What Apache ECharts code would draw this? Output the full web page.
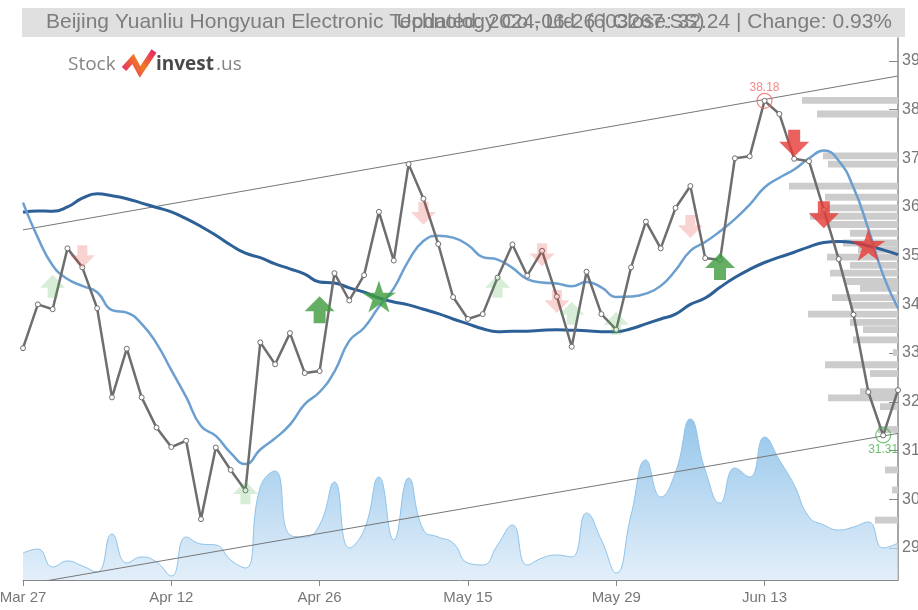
<!DOCTYPE html>
<html><head><meta charset="utf-8">
<script src="https://cdn.jsdelivr.net/npm/echarts/dist/echarts.min.js"></script>
<style>html,body{margin:0;padding:0;background:#fff}#c{width:918px;height:610px}</style>
</head><body><div id="c"></div>
<script>
const categories = ["Mar 27","Mar 28","Mar 29","Apr 1","Apr 2","Apr 3","Apr 8","Apr 9","Apr 10","Apr 11",
"Apr 12","Apr 15","Apr 16","Apr 17","Apr 18","Apr 19","Apr 22","Apr 23","Apr 24","Apr 25",
"Apr 26","Apr 29","Apr 30","May 6","May 7","May 8","May 9","May 10","May 13","May 14",
"May 15","May 16","May 17","May 20","May 21","May 22","May 23","May 24","May 27","May 28",
"May 29","May 30","May 31","Jun 3","Jun 4","Jun 5","Jun 6","Jun 7","Jun 11","Jun 12",
"Jun 13","Jun 14","Jun 17","Jun 18","Jun 19","Jun 20","Jun 21","Jun 24","Jun 25","Jun 26"];
const closePrices = [33.10,34.00,33.90,35.15,34.76,33.92,32.09,33.09,32.09,31.47,
31.07,31.20,29.59,31.06,30.60,30.18,33.22,32.77,33.41,32.59,
32.63,34.64,34.08,34.60,35.90,34.90,36.88,36.17,35.24,34.15,
33.70,33.80,34.55,35.23,34.59,35.10,34.16,33.13,34.67,33.80,
33.48,34.76,35.70,35.15,35.98,36.43,34.95,34.91,37.00,37.04,
38.18,37.91,36.99,36.94,35.94,34.93,33.79,32.20,31.31,32.24];
const smaFast = [36.09,35.37,34.80,34.52,34.38,34.25,33.88,33.83,33.60,33.20,
32.65,32.10,31.50,31.30,30.95,30.72,31.02,31.25,31.53,31.95,
32.20,32.62,33.25,33.52,33.95,34.33,34.90,35.30,35.41,35.37,
35.22,34.97,34.92,34.75,34.52,34.45,34.43,34.37,34.46,34.35,
34.15,34.16,34.22,34.38,34.70,35.10,35.28,35.50,35.75,36.05,
36.40,36.60,36.77,37.00,37.16,36.95,36.40,35.55,34.60,33.92];
const smaSlow = [35.89,35.92,35.91,36.00,36.18,36.27,36.23,36.17,36.08,35.99,
35.90,35.76,35.60,35.42,35.22,35.05,34.96,34.83,34.73,34.62,
34.46,34.44,34.34,34.25,34.13,34.05,33.99,33.90,33.81,33.70,
33.60,33.50,33.44,33.45,33.45,33.47,33.48,33.47,33.46,33.44,
33.44,33.50,33.60,33.70,33.80,34.00,34.13,34.35,34.55,34.72,
34.86,34.97,35.07,35.18,35.27,35.29,35.27,35.20,35.12,35.02];
const volumes = [27,31,13,19,14,8,46,17,23,18,
4,43,36,35,20,12,93,109,45,43,
55,98,32,50,103,40,102,50,43,37,
17,15,35,55,15,22,25,23,67,40,
7,65,120,83,108,161,110,77,112,103,
143,120,95,63,55,50,53,58,32,37];
const profilePrices = [38.19,37.91,37.05,36.88,36.43,36.20,35.98,35.81,35.64,35.46,35.26,35.12,34.97,34.80,34.64,34.47,34.33,34.14,33.98,33.80,33.63,33.48,33.27,33.01,32.76,32.58,32.21,32.08,31.90,31.43,30.60,30.19,29.57];
const profileVolumes = [96,81,75,70,109,73,71,88,71,48,55,40,71,48,68,53,38,66,48,90,48,35,45,5,73,28,38,70,18,20,13,6,23];
const upperTrend = [35.53, 38.69];
const lowerTrend = [28.24, 31.35];
const yTicks = [29,30,31,32,33,34,35,36,37,38,39];
const buyFaded = [[2,34.37],[15,30.13],[32,34.37],[37,33.82],[40,33.61]];
const sellFaded = [[4,34.98],[27,35.87],[35,35.02],[36,34.06],[45,35.60]];
const buyStrong = [[20,33.89],[47,34.78]];
const sellStrong = [[52,37.31],[54,35.84]];
const buyStar = [[24,34.16]];
const sellStar = [[57,35.22]];
const highPoint = [50, 38.18];
const lowPoint = [58, 31.31];
const titleLeft = "Beijing Yuanliu Hongyuan Electronic Technology Co., Ltd. (603267.SS)";
const titleRight = "Updated: 2024-06-26 | Close: 32.24 | Change: 0.93%";

const UP = 'path://M15,0 L30,15 L21,15 L21,27 L9,27 L9,15 L0,15 Z';
const DOWN = 'path://M9,0 L21,0 L21,12 L30,12 L15,27 L0,12 L9,12 Z';
const STAR = 'path://M50,0 L62,36 L100,36 L69,58 L81,95 L50,72 L19,95 L31,58 L0,36 L38,36 Z';
const binHalf = 0.07;

const chart = echarts.init(document.getElementById('c'));
chart.setOption({
  animation: false,
  backgroundColor: '#fff',
  grid: {left: 23, right: 20, top: 38, bottom: 30, containLabel: false, outerBoundsMode: 'none'},
  xAxis: [
    {type: 'category', data: categories, boundaryGap: false,
     axisLine: {lineStyle: {color: '#888', width: 1}},
     axisTick: {interval: 9, length: 6, lineStyle: {color: '#888'}},
     axisLabel: {interval: 9, color: '#777', fontSize: 15, margin: 10, fontFamily: 'Liberation Sans, Arial, sans-serif'},
     splitLine: {show: false}},
    {type: 'value', inverse: true, min: 0, max: 875, show: false, position: 'top'}
  ],
  yAxis: [
    {type: 'value', position: 'right', min: 28.34, max: 39.47, splitNumber: 10, scale: true,
     axisLine: {show: true, lineStyle: {color: '#888', width: 1.5}},
     axisTick: {show: true, inside: true, length: 9, lineStyle: {color: '#888'}, customValues: yTicks},
     axisLabel: {color: '#777', fontSize: 16, margin: 4, fontFamily: 'Liberation Sans, Arial, sans-serif', customValues: yTicks},
     splitLine: {show: false}},
    {type: 'value', min: 0, max: 542, show: false}
  ],
  graphic: [
    {type: 'rect', left: 22, top: 8, shape: {width: 883, height: 29}, style: {fill: '#e0e0e0'}, z: 10},
    {type: 'text', x: 46, y: 22, style: {text: titleLeft, fill: '#7d7d7d', font: '21px "Liberation Sans", Arial, sans-serif', textVerticalAlign: 'middle', textAlign: 'left'}, z: 11},
    {type: 'text', x: 892, y: 22, style: {text: titleRight, fill: '#7d7d7d', font: '21px "Liberation Sans", Arial, sans-serif', textVerticalAlign: 'middle', textAlign: 'right'}, z: 11},
    {type: 'text', x: 68, y: 65, style: {text: 'Stock', fill: '#858585', font: '19px "Open Sans", sans-serif', textVerticalAlign: 'middle'}, z: 11},
    {type: 'polyline', shape: {points: [[124,69],[133,59],[140,72],[154,51]]},
     style: {lineWidth: 6, lineJoin: 'miter', fill: null,
       stroke: new echarts.graphic.LinearGradient(0, 1, 1, 0, [{offset: 0, color: '#e0207f'}, {offset: 0.5, color: '#f27a21'}, {offset: 1, color: '#e2157d'}])}, z: 11},
    {type: 'text', x: 156, y: 65, style: {text: 'invest', fill: '#4a4a4a', font: 'bold 19px "Open Sans", sans-serif', textVerticalAlign: 'middle'}, z: 11},
    {type: 'text', x: 216, y: 65, style: {text: '.us', fill: '#858585', font: '19px "Open Sans", sans-serif', textVerticalAlign: 'middle'}, z: 11}
  ],
  series: [
    {type: 'line', name: 'Volume', data: volumes, xAxisIndex: 0, yAxisIndex: 1, smooth: 0.5, symbol: 'none', z: 1,
     lineStyle: {color: '#8fc3ea', width: 1},
     areaStyle: {color: new echarts.graphic.LinearGradient(0, 0, 0, 1, [{offset: 0, color: '#6aaee2'}, {offset: 1, color: '#d6e8f7'}])}},
    {type: 'custom', name: 'Profile', xAxisIndex: 1, yAxisIndex: 0, z: 1,
     data: profilePrices.map((p, i) => [profileVolumes[i], p]),
     renderItem: function (params, api) {
       const v = api.value(0), p = api.value(1);
       const a = api.coord([0, p + binHalf]);
       const b = api.coord([v, p - binHalf]);
       return {type: 'rect', shape: {x: Math.min(a[0], b[0]), y: a[1], width: Math.abs(a[0] - b[0]), height: b[1] - a[1]},
               style: {fill: '#cccccc'}};
     }},
    {type: 'line', name: 'Upper', data: [[0, upperTrend[0]], [59, upperTrend[1]]], symbol: 'none', z: 2,
     lineStyle: {color: '#777', width: 1}},
    {type: 'line', name: 'Lower', data: [[0, lowerTrend[0]], [59, lowerTrend[1]]], symbol: 'none', z: 2,
     lineStyle: {color: '#777', width: 1}},
    {type: 'line', name: 'SMA slow', data: smaSlow, smooth: true, symbol: 'none', z: 3,
     lineStyle: {color: '#2d6097', width: 3}},
    {type: 'line', name: 'SMA fast', data: smaFast, smooth: true, symbol: 'none', z: 3,
     lineStyle: {color: '#6b9fd0', width: 2.5}},
    {type: 'line', name: 'Close', data: closePrices, symbol: 'circle', symbolSize: 5, z: 4,
     lineStyle: {color: '#6e6e6e', width: 2.5},
     itemStyle: {color: '#fff', borderColor: '#6e6e6e', borderWidth: 1}},
    {type: 'scatter', data: buyFaded, symbol: UP, symbolSize: [25, 23], z: 5, itemStyle: {color: 'rgba(76,175,80,0.28)'}},
    {type: 'scatter', data: sellFaded, symbol: DOWN, symbolSize: [25, 23], z: 5, itemStyle: {color: 'rgba(229,57,53,0.28)'}},
    {type: 'scatter', data: buyStrong, symbol: UP, symbolSize: [30, 27], z: 6, itemStyle: {color: '#3f9b3f'}},
    {type: 'scatter', data: sellStrong, symbol: DOWN, symbolSize: [30, 27], z: 6, itemStyle: {color: '#e53935'}},
    {type: 'scatter', data: buyStar, symbol: STAR, symbolSize: [34, 32], z: 6, itemStyle: {color: '#3f9b3f'}},
    {type: 'scatter', data: sellStar, symbol: STAR, symbolSize: [34, 32], z: 6, itemStyle: {color: '#e53935'}},
    {type: 'scatter', data: [highPoint], symbol: 'circle', symbolSize: 15, z: 7,
     itemStyle: {color: 'rgba(0,0,0,0)', borderColor: '#f06a6a', borderWidth: 1.2},
     label: {show: true, position: 'top', distance: -1, formatter: p => p.value[1].toFixed(2), color: '#f06a6a', fontSize: 12}},
    {type: 'scatter', data: [lowPoint], symbol: 'circle', symbolSize: 15, z: 7,
     itemStyle: {color: 'rgba(0,0,0,0)', borderColor: '#4caf50', borderWidth: 1.2},
     label: {show: true, position: 'bottom', distance: 0, formatter: p => p.value[1].toFixed(2), color: '#4caf50', fontSize: 12}}
  ]
});
</script></body></html>
